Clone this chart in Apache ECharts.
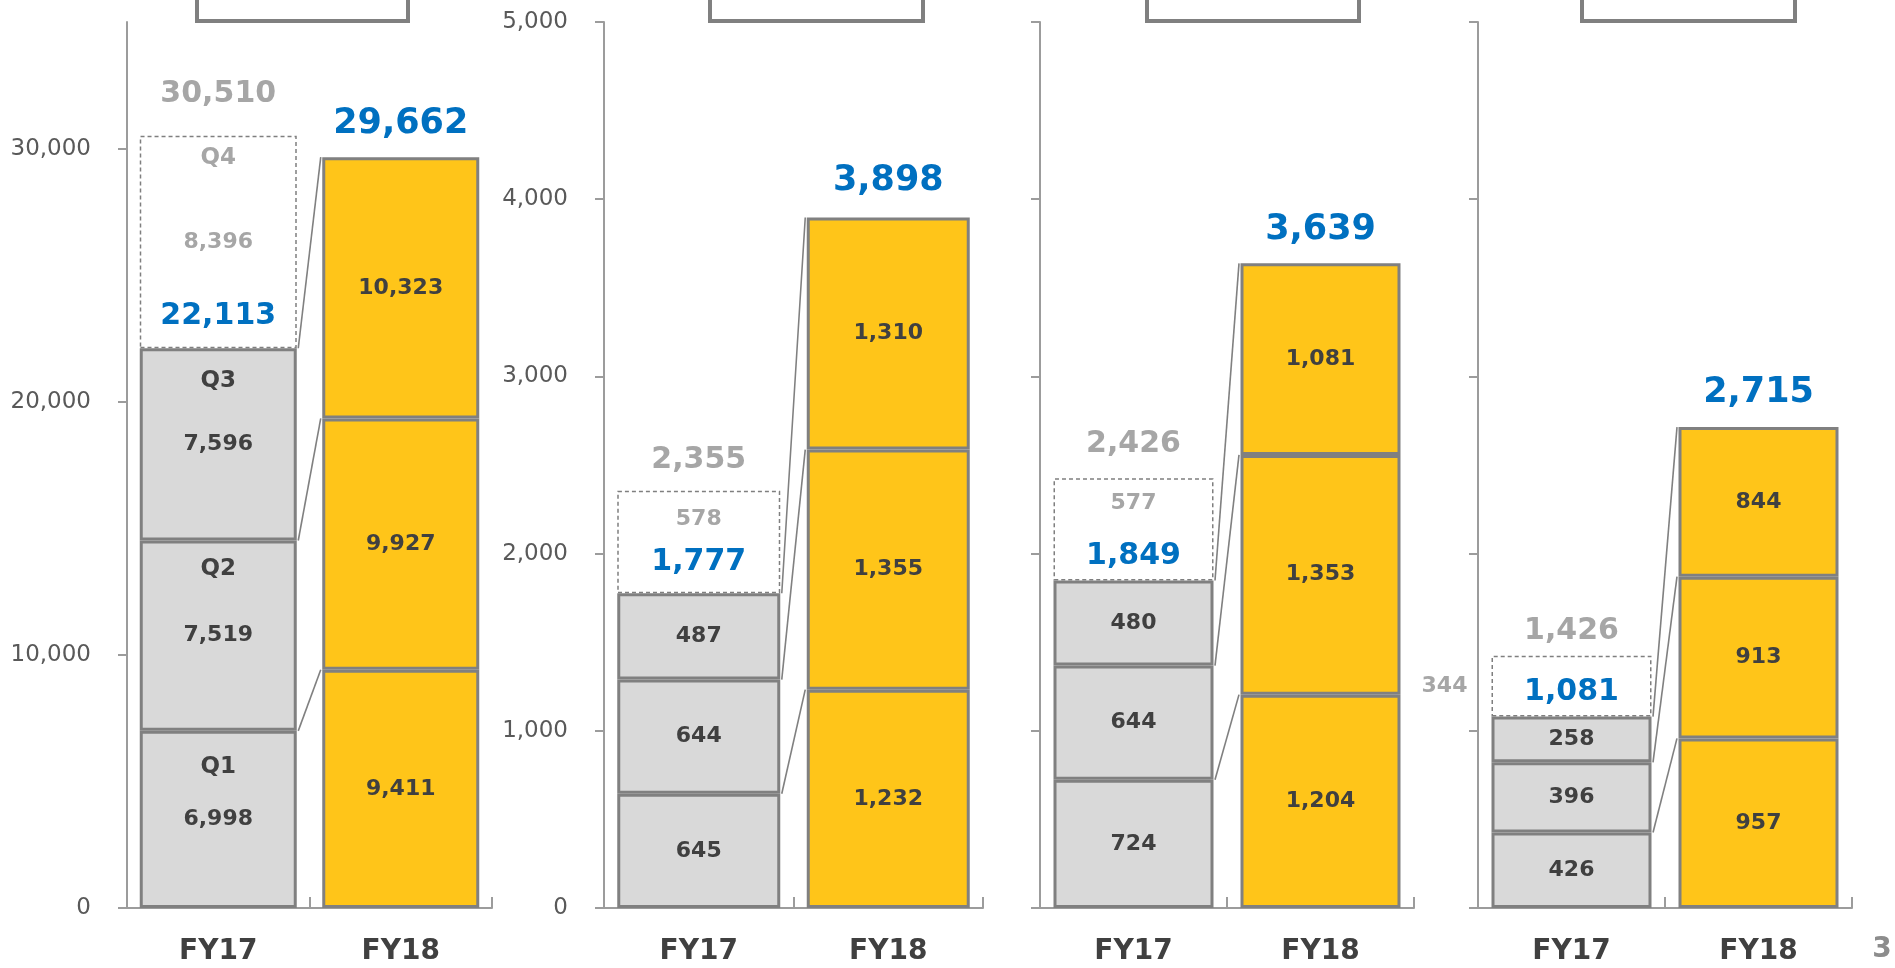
<!DOCTYPE html>
<html>
<head>
<meta charset="utf-8">
<style>
html,body{margin:0;padding:0;background:#fff;}
#chart{width:1895px;height:968px;}
</style>
<script src="https://cdn.jsdelivr.net/npm/echarts@6/dist/echarts.min.js"></script>
</head>
<body>
<div id="chart"></div>
<script>
// ---------- data ----------
const categories = ['FY17', 'FY18'];
const quarterTags = ['Q1', 'Q2', 'Q3', 'Q4'];
// one entry per panel (4 panels)
const fy17Q1 = [6998, 645, 724, 426];
const fy17Q2 = [7519, 644, 644, 396];
const fy17Q3 = [7596, 487, 480, 258];
const fy17Q4 = [8396, 578, 577, 344];
const fy18Q1 = [9411, 1232, 1204, 957];
const fy18Q2 = [9927, 1355, 1353, 913];
const fy18Q3 = [10323, 1310, 1081, 844];
const fy17Total = [22113, 1777, 1849, 1081];
const fy17FullYear = [30510, 2355, 2426, 1426];
const fy18Total = [29662, 3898, 3639, 2715];
const axisMax = [35000, 5000, 5000, 5000];
const axisInterval = [10000, 1000, 1000, 1000];
const panel1TickValues = [0, 10000, 20000, 30000];
const pageNumber = '3';

// ---------- layout / style ----------
const FONT = "'DejaVu Sans', Verdana, sans-serif";
const GRAY_FILL = '#d9d9d9';
const YELLOW = '#ffc519';
const BORDER = '#808080';
const AXIS = '#9c9c9c';
const DARK = '#404040';
const BLUE = '#0070c0';
const LIGHT = '#a6a6a6';

const layout = [
  {left: 127, width: 365, barWidth: 157},
  {left: 604, width: 379, barWidth: 163},
  {left: 1040, width: 374, barWidth: 160},
  {left: 1478, width: 374, barWidth: 160}
];
const showYLabels = [true, true, false, false];
const q4LabelOffset = [[0, 0], [0, -23], [0, -26], [-127, 0]];
const lift17 = [17, 16, 9, 9];
const lift18 = [16, 19, 16, 16];
const liftFull = [26, 15, 19, 9];
const qTagDistance = [25, 17, 21, 11];
const topBoxes = [[197, 211], [710, 213], [1147, 212], [1582, 213]];

const fmt = v => Number(v).toLocaleString('en-US');

const grids = [], xAxes = [], yAxes = [], series = [];

for (let i = 0; i < 4; i++) {
  const L = layout[i];
  grids.push({left: L.left, width: L.width, top: 22, bottom: 60, containLabel: false});
  xAxes.push({
    gridIndex: i, type: 'category', data: categories, boundaryGap: true,
    axisLine: {show: true, lineStyle: {color: AXIS, width: 2}},
    axisTick: {show: true, inside: true, length: 11, lineStyle: {color: AXIS, width: 2}},
    axisLabel: {fontFamily: FONT, fontSize: 28, fontWeight: 'bold', color: DARK, margin: 30, lineHeight: 28}
  });
  const yA = {
    gridIndex: i, type: 'value', min: 0, max: axisMax[i], interval: axisInterval[i],
    axisLine: {show: true, lineStyle: {color: AXIS, width: 2}},
    axisTick: {show: true, inside: false, length: 9, lineStyle: {color: AXIS, width: 2}},
    splitLine: {show: false},
    axisLabel: {show: showYLabels[i], formatter: v => fmt(v), fontFamily: FONT, fontSize: 23, color: '#595959', margin: 36}
  };
  if (i === 0) {
    yA.axisTick.customValues = panel1TickValues;
    yA.axisLabel.customValues = panel1TickValues;
  }
  yAxes.push(yA);

  const fy17 = [fy17Q1[i], fy17Q2[i], fy17Q3[i]];
  const fy18 = [fy18Q1[i], fy18Q2[i], fy18Q3[i]];

  // stacked quarter bars
  for (let q = 0; q < 3; q++) {
    series.push({
      type: 'bar', name: quarterTags[q], stack: 'p' + i,
      xAxisIndex: i, yAxisIndex: i, barWidth: L.barWidth,
      itemStyle: {borderColor: BORDER, borderWidth: 3},
      label: {show: true, position: 'inside', formatter: p => fmt(p.value),
        fontFamily: FONT, fontSize: 22, fontWeight: 'bold', color: DARK},
      data: [
        {value: fy17[q], itemStyle: {color: GRAY_FILL}},
        {value: fy18[q], itemStyle: {color: YELLOW}}
      ],
      z: 2
    });
  }
  // Q4 (remaining forecast) dashed box
  series.push({
    type: 'bar', name: 'Q4', stack: 'p' + i,
    xAxisIndex: i, yAxisIndex: i, barWidth: L.barWidth,
    itemStyle: {color: 'rgba(255,255,255,0)', borderColor: '#7f7f7f', borderWidth: 1.5, borderType: [4, 3]},
    label: {show: true, position: 'inside', offset: q4LabelOffset[i], formatter: p => fmt(p.value),
      fontFamily: FONT, fontSize: 22, fontWeight: 'bold', color: LIGHT},
    data: [fy17Q4[i], '-'],
    z: 2
  });

  // connector lines between quarter boundaries
  const cum17 = [fy17[0], fy17[0] + fy17[1], fy17[0] + fy17[1] + fy17[2]];
  const cum18 = [fy18[0], fy18[0] + fy18[1], fy18[0] + fy18[1] + fy18[2]];
  series.push({
    type: 'custom', xAxisIndex: i, yAxisIndex: i, silent: true, z: 5,
    encode: {x: 0, y: [1, 2]},
    data: cum17.map((c, k) => [0, c, cum18[k]]),
    renderItem: (params, api) => {
      const a = api.coord([0, api.value(1)]);
      const b = api.coord([1, api.value(2)]);
      const hw = L.barWidth / 2 + 1.5;
      return {type: 'line', shape: {x1: a[0] + hw, y1: a[1], x2: b[0] - hw, y2: b[1]},
        style: {stroke: BORDER, lineWidth: 1.6}};
    }
  });

  // totals
  series.push({
    type: 'scatter', xAxisIndex: i, yAxisIndex: i, symbolSize: 0, silent: true, z: 6,
    itemStyle: {opacity: 1},
    label: {show: true, position: 'top', fontFamily: FONT, fontWeight: 'bold', opacity: 1,
      formatter: p => fmt(p.value[1])},
    data: [
      {value: [0, fy17Total[i]], label: {color: BLUE, fontSize: 30, lineHeight: 30, distance: lift17[i]}},
      {value: [1, fy18Total[i]], label: {color: BLUE, fontSize: 35, lineHeight: 35, distance: lift18[i]}},
      {value: [0, fy17FullYear[i]], label: {color: LIGHT, fontSize: 30, lineHeight: 30, distance: liftFull[i]}}
    ]
  });

  // quarter tags (first panel only)
  if (i === 0) {
    const tops = [cum17[0], cum17[1], fy17Total[i], fy17FullYear[i]];
    series.push({
      type: 'scatter', xAxisIndex: i, yAxisIndex: i, symbolSize: 0, silent: true, z: 6,
      itemStyle: {opacity: 1},
      label: {show: true, position: 'bottom', fontFamily: FONT, fontWeight: 'bold', fontSize: 23, lineHeight: 23,
        opacity: 1, formatter: p => p.name},
      data: tops.map((t, k) => ({
        name: quarterTags[k], value: [0, t],
        label: {color: k === 3 ? LIGHT : DARK, distance: qTagDistance[k]}
      }))
    });
  }
}

const graphic = topBoxes.map(b => ({
  type: 'rect', shape: {x: b[0], y: -20, width: b[1], height: 41},
  style: {fill: '#fff', stroke: BORDER, lineWidth: 4}, z: 10
}));
graphic.push({
  type: 'text', x: 1882, y: 950,
  style: {text: pageNumber, font: 'bold 28px ' + FONT, fill: '#8c8c8c', textAlign: 'center', textVerticalAlign: 'middle'}
});

const chart = echarts.init(document.getElementById('chart'), null, {renderer: 'canvas'});
chart.setOption({
  animation: false,
  backgroundColor: '#fff',
  grid: grids, xAxis: xAxes, yAxis: yAxes, series: series, graphic: graphic
});
</script>
</body>
</html>
